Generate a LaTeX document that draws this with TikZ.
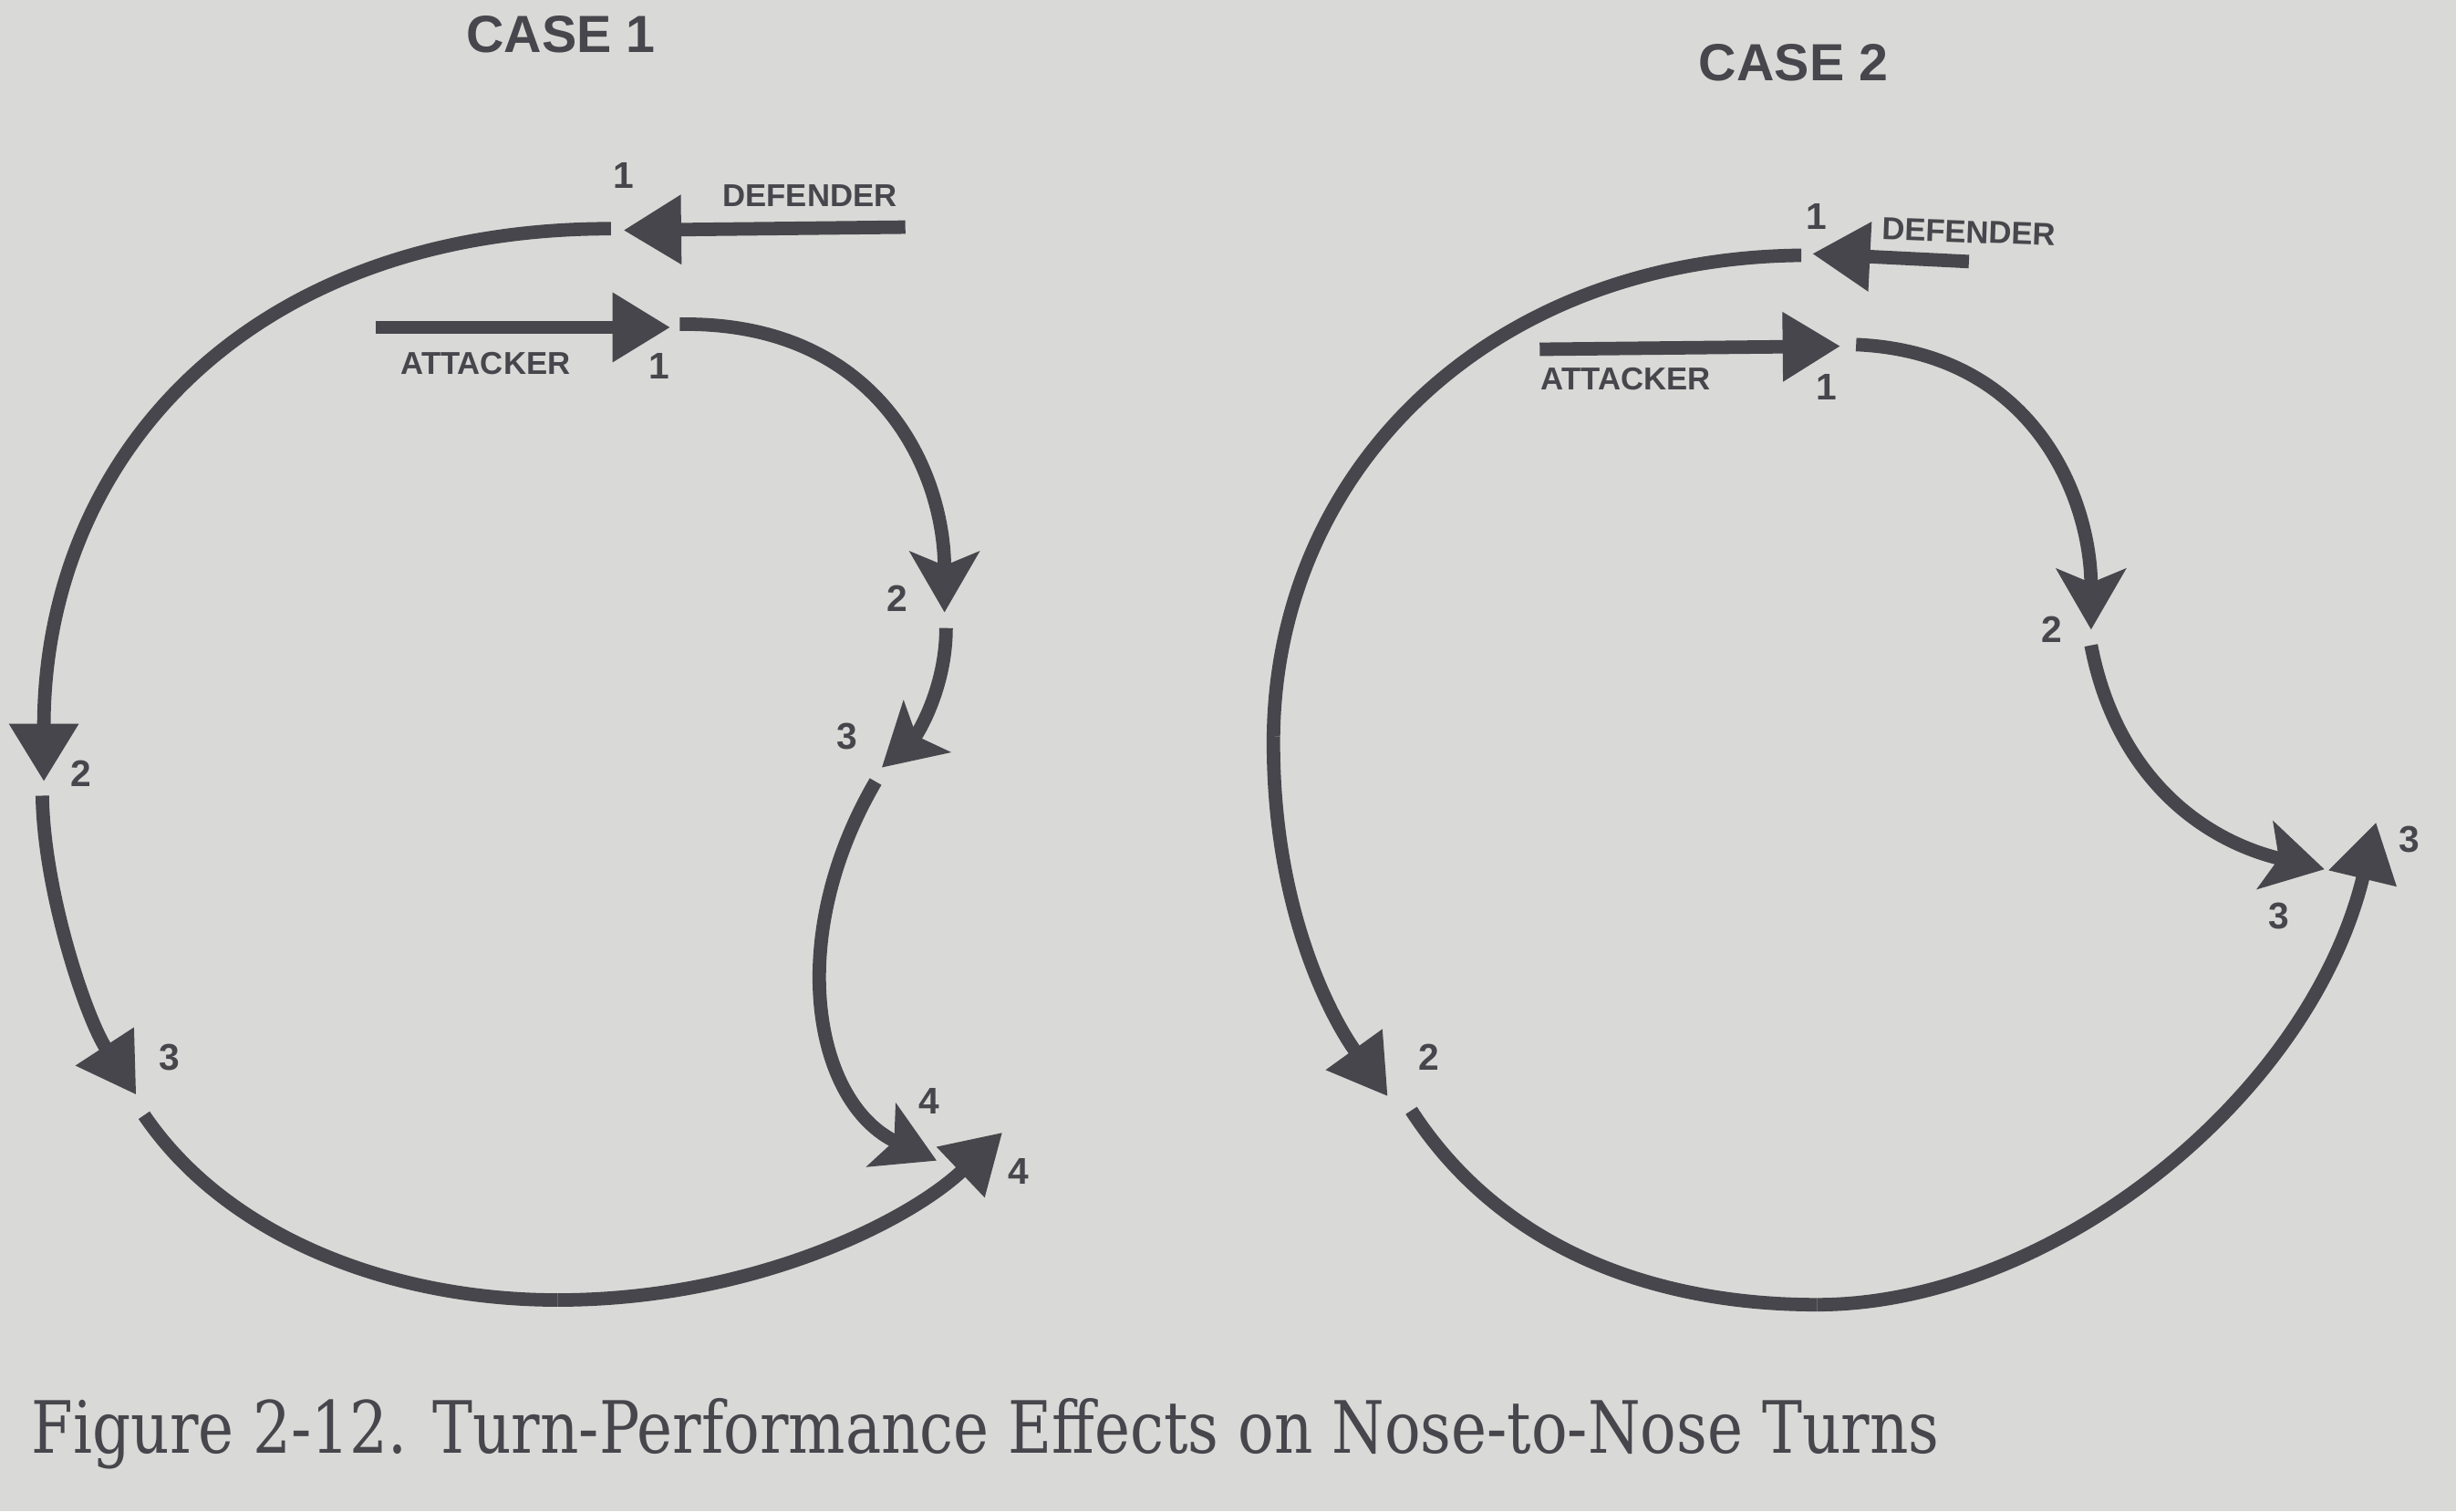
\documentclass[tikz,border=0pt]{standalone}
\usepackage{fontspec}
\setmainfont{DejaVu Serif}
\setsansfont{Liberation Sans}
\usetikzlibrary{arrows.meta}
\definecolor{paper}{RGB}{217,217,215}
\definecolor{ink}{RGB}{70,70,76}
\begin{document}
\begin{tikzpicture}[x=0.02cm,y=-0.02cm,
  trackline/.style={draw=ink,line width=4.9pt},
  tri/.style={-{Triangle[length=21pt,width=24pt]}},
  stl/.style={-{Stealth[length=22pt,width=25pt,inset=5pt]}},
  numlbl/.style={text=ink,font=\sffamily\bfseries\fontsize{13.5}{14}\selectfont,inner sep=0pt},
  wholbl/.style={text=ink,font=\sffamily\bfseries\fontsize{11.5}{12}\selectfont,inner sep=0pt},
  casetitle/.style={text=ink,font=\sffamily\bfseries\fontsize{19}{19}\selectfont,inner sep=0pt}]
\fill[paper] (0,0) rectangle (1568,965);
\useasboundingbox (0,0) rectangle (1568,965);

% ---------- CASE 1 ----------
\node[casetitle] (t1) at (358,22) {CASE 1};
% defender
\coordinate (d1a) at (578,145);
\coordinate (d1b) at (398,147);
\coordinate (d1c) at (390,146);
\coordinate (d1d) at (28,499);
\coordinate (d1e) at (27,508);
\coordinate (d1f) at (87,699);
\coordinate (d1g) at (92,712);
\coordinate (d1h) at (356,830);
\coordinate (d1i) at (640,723);
\draw[trackline,tri] (d1a) -- (d1b);
\draw[trackline,tri] (d1c) .. controls (160,146) and (28,290) .. (d1d);
\draw[trackline,tri] (d1e) .. controls (28,570) and (55,650) .. (d1f);
\draw[trackline] (d1g) .. controls (145,790) and (250,830) .. (d1h);
\draw[trackline,tri] (d1h) .. controls (480,830) and (580,780) .. (d1i);
% attacker
\coordinate (a1a) at (240,209);
\coordinate (a1b) at (428,209);
\coordinate (a1c) at (434,207);
\coordinate (a1d) at (603,391);
\coordinate (a1e) at (604,401);
\coordinate (a1f) at (563,490);
\coordinate (a1g) at (559,499);
\coordinate (a1h) at (598,741);
\draw[trackline,tri] (a1a) -- (a1b);
\draw[trackline,stl] (a1c) .. controls (560,205) and (603,300) .. (a1d);
\draw[trackline,stl] (a1e) .. controls (604,440) and (585,470) .. (a1f);
\draw[trackline,stl] (a1g) .. controls (500,600) and (520,705) .. (a1h);
% labels
\node[numlbl] (n1d) at (398,112) {1};
\node[wholbl] (w1d) at (517,125) {DEFENDER};
\node[wholbl] (w1a) at (310,232) {ATTACKER};
\node[numlbl] (n1a) at (421,234) {1};
\node[numlbl] (n2l) at (52,494) {2};
\node[numlbl] (n3l) at (108,675) {3};
\node[numlbl] (n4r) at (650,748) {4};
\node[numlbl] (n2r) at (573,382) {2};
\node[numlbl] (n3r) at (541,470) {3};
\node[numlbl] (n4i) at (593,703) {4};

% ---------- CASE 2 ----------
\node[casetitle] (t2) at (1145,40) {CASE 2};
% defender
\coordinate (d2a) at (1257,167);
\coordinate (d2b) at (1157,162);
\coordinate (d2c) at (1150,163);
\coordinate (d2m) at (813,470);
\coordinate (d2d) at (886,700);
\coordinate (d2e) at (901,709);
\coordinate (d2f) at (1160,833);
\coordinate (d2g) at (1517,525);
\draw[trackline,tri] (d2a) -- (d2b);
\draw[trackline] (d2c) .. controls (950,165) and (815,300) .. (d2m);
\draw[trackline,tri] (d2m) .. controls (812,580) and (850,650) .. (d2d);
\draw[trackline] (d2e) .. controls (960,800) and (1060,833) .. (d2f);
\draw[trackline,tri] (d2f) .. controls (1310,833) and (1475,700) .. (d2g);
% attacker
\coordinate (a2a) at (983,223);
\coordinate (a2b) at (1175,221);
\coordinate (a2c) at (1185,220);
\coordinate (a2d) at (1335,402);
\coordinate (a2e) at (1335,412);
\coordinate (a2f) at (1484,555);
\draw[trackline,tri] (a2a) -- (a2b);
\draw[trackline,stl] (a2c) .. controls (1300,225) and (1335,320) .. (a2d);
\draw[trackline,stl] (a2e) .. controls (1350,490) and (1400,535) .. (a2f);
% labels
\node[numlbl] (m1d) at (1160,138) {1};
\node[wholbl,rotate=-2] (v1d) at (1257,148) {DEFENDER};
\node[wholbl] (v1a) at (1038,242) {ATTACKER};
\node[numlbl] (m1a) at (1166,247) {1};
\node[numlbl] (m2r) at (1310,402) {2};
\node[numlbl] (m3i) at (1455,585) {3};
\node[numlbl] (m3o) at (1538,536) {3};
\node[numlbl] (m2l) at (912,675) {2};

% ---------- caption ----------
\node[anchor=base west,inner sep=0pt,text=ink] (cap) at (20,928)
  {\resizebox{24.36cm}{0.7cm}{\fontsize{26}{28}\selectfont Figure 2-12. Turn-Performance Effects on Nose-to-Nose Turns}};
\end{tikzpicture}
\end{document}
